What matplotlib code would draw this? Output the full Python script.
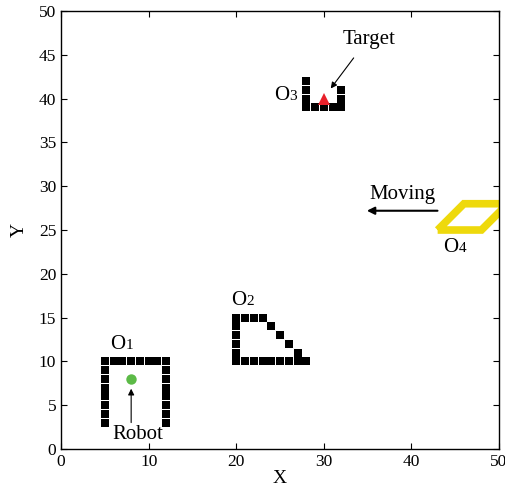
import matplotlib
matplotlib.use("Agg")
import matplotlib.pyplot as plt
from matplotlib.patches import Polygon

plt.rcParams['font.family'] = ['Liberation Serif', 'DejaVu Serif']

# Obstacle cells (grid coordinates)
o1_x = [5]*8 + [6, 7, 8, 9, 10, 11] + [12]*8
o1_y = [3, 4, 5, 6, 7, 8, 9, 10] + [10]*6 + [3, 4, 5, 6, 7, 8, 9, 10]

o2_x = [20]*6 + [21, 22, 23] + [24, 25, 26, 27] + [21, 22, 23, 24, 25, 26, 27, 28]
o2_y = [10, 11, 12, 13, 14, 15] + [15]*3 + [14, 13, 12, 11] + [10]*8

o3_x = [28]*4 + [29, 30, 31] + [32]*3
o3_y = [39, 40, 41, 42] + [39]*3 + [39, 40, 41]

# Moving obstacle O4 outline
o4_x = [43, 48, 51, 46]
o4_y = [25, 25, 28, 28]

robot = (8, 8)
target = (30, 40)

fig = plt.figure(figsize=(5.05, 4.92), dpi=100)
ax = fig.add_axes([0.121, 0.0874, 0.867, 0.8902])

sq = dict(marker='s', markersize=5.25, markeredgewidth=0, color='black', linestyle='none')
ax.plot(o1_x, o1_y, **sq)
ax.plot(o2_x, o2_y, **sq)
ax.plot(o3_x, o3_y, **sq)

ax.add_patch(Polygon(list(zip(o4_x, o4_y)), closed=True, fill=False,
                     edgecolor='#EED90C', linewidth=5.5, joinstyle='miter'))

ax.plot(*robot, marker='o', markersize=7.5, markeredgewidth=0, color='#5CBA47', linestyle='none')
ax.plot(*target, marker='^', markersize=8.5, markeredgewidth=0, color='#E8202A', linestyle='none')

arrow = dict(arrowstyle='-|>', color='black', lw=0.8, mutation_scale=9)
ax.annotate('', xy=(8, 7.2), xytext=(8, 2.7), arrowprops=arrow)
ax.text(8.8, 1.6, 'Robot', ha='center', va='center', fontsize=15)

ax.annotate('', xy=(30.6, 40.9), xytext=(33.6, 44.9), arrowprops=arrow)
ax.text(35.2, 46.7, 'Target', ha='center', va='center', fontsize=15)

ax.annotate('', xy=(34.6, 27.2), xytext=(43.3, 27.2),
            arrowprops=dict(arrowstyle='-|>', color='black', lw=1.5, mutation_scale=11))
ax.text(39.0, 29.1, 'Moving', ha='center', va='center', fontsize=15)


def obstacle_label(x, y, idx):
    ax.text(x, y, 'O', ha='right', va='baseline', fontsize=15)
    ax.annotate(str(idx), xy=(x, y), xytext=(0.3, 0), textcoords='offset points',
                ha='left', va='baseline', fontsize=11)


obstacle_label(7.3, 11.4, 1)
obstacle_label(21.1, 16.4, 2)
obstacle_label(26.0, 39.8, 3)
obstacle_label(45.4, 22.5, 4)

ax.set_xlim(0, 50)
ax.set_ylim(0, 50)
ax.set_xticks(range(0, 51, 10))
ax.set_yticks(range(0, 51, 5))
ax.tick_params(direction='in', top=True, right=True, labelsize=12.5, length=4, width=0.8)
for s in ax.spines.values():
    s.set_linewidth(1.0)
ax.set_xlabel('X', fontsize=14, labelpad=0)
ax.set_ylabel('Y', fontsize=14, labelpad=8)

fig.savefig('out.png', dpi=100)
